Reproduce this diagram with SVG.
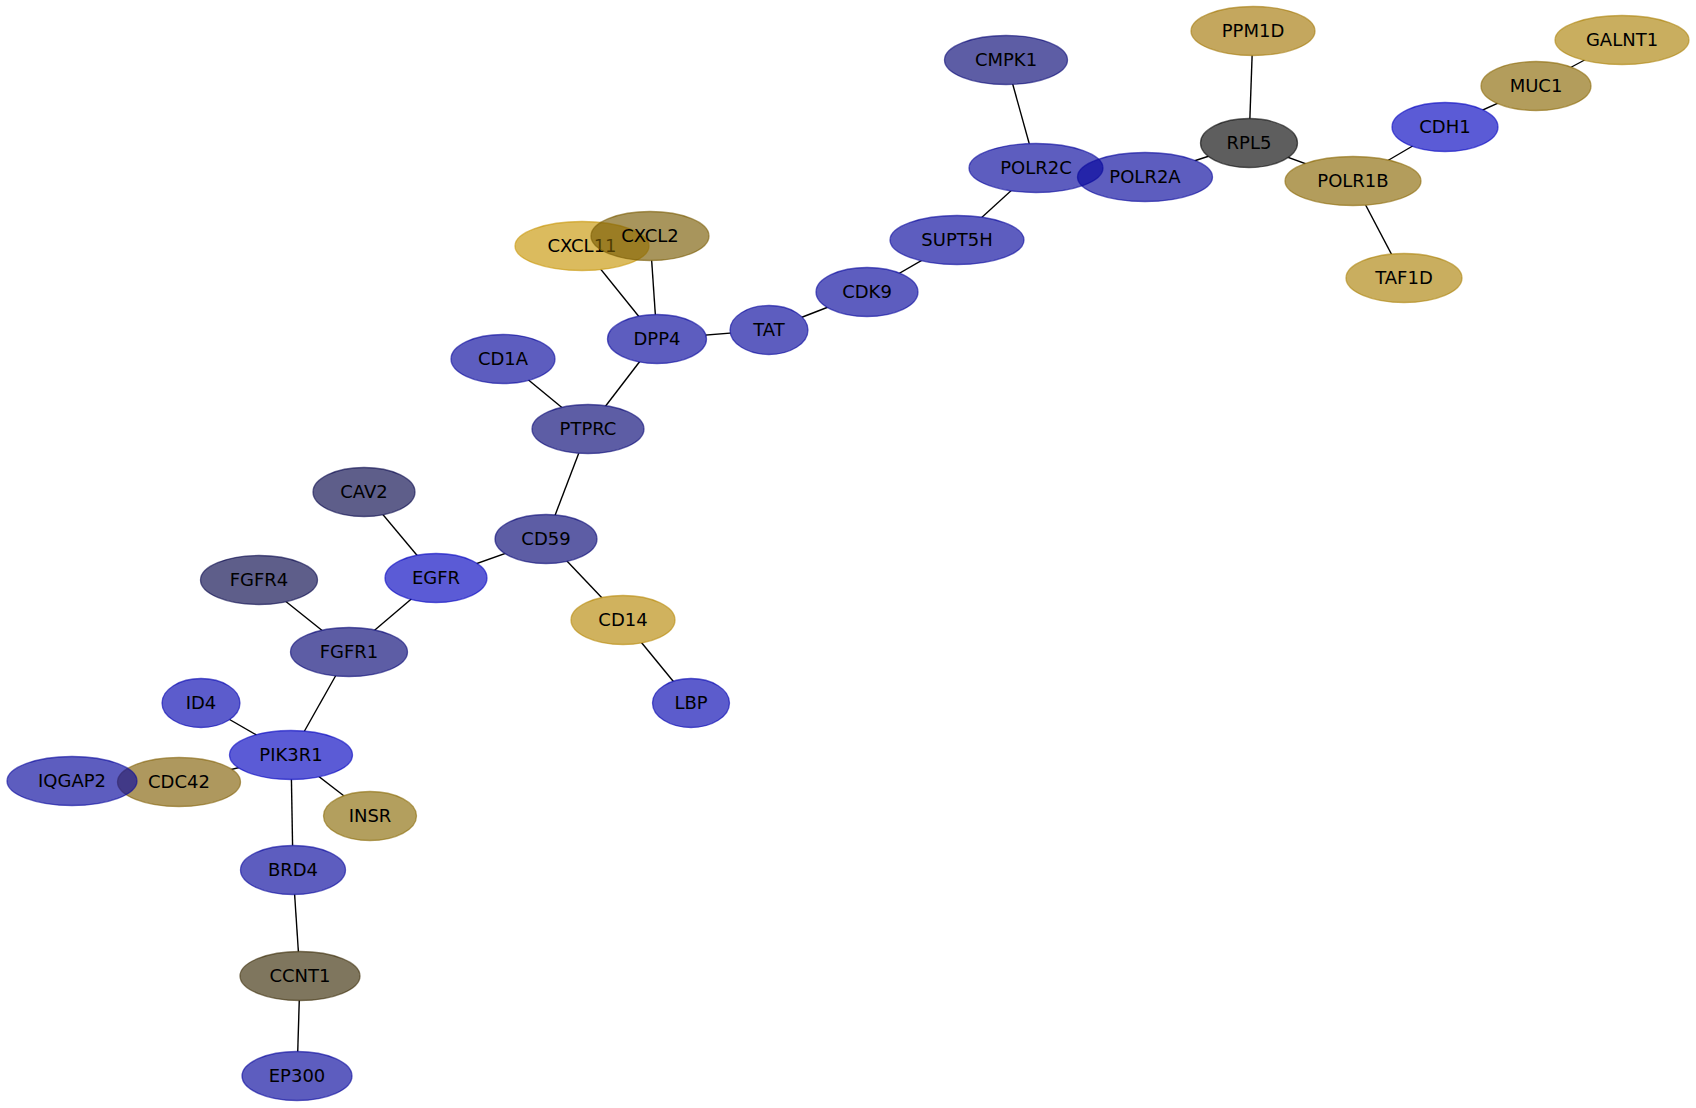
<svg xmlns="http://www.w3.org/2000/svg" width="1696" height="1108" viewBox="0 0 1696 1108">
<style>
.n ellipse { stroke-width: 1.3; fill-opacity: 0.65; stroke-opacity: 0.6; }
.n text { font-family: "DejaVu Sans", "Liberation Sans", sans-serif; font-size: 18px; text-anchor: middle; fill: #000; }
.e line { stroke: #000; stroke-width: 1.4; }
.bv { fill: #0303c0; stroke: #0303c0; }
.bl { fill: #0404b0; stroke: #0404b0; }
.bm { fill: #06069c; stroke: #06069c; }
.bg { fill: #060675; stroke: #060675; }
.bs { fill: #07074b; stroke: #07074b; }
.g1 { fill: #a47807; stroke: #a47807; }
.g2 { fill: #ac8209; stroke: #ac8209; }
.g3 { fill: #8a6804; stroke: #8a6804; }
.g4 { fill: #c89607; stroke: #c89607; }
.g5 { fill: #795c04; stroke: #795c04; }
.g6 { fill: #b78807; stroke: #b78807; }
.g7 { fill: #8a6b07; stroke: #8a6b07; }
.g8 { fill: #826107; stroke: #826107; }
.g9 { fill: #3a2c07; stroke: #3a2c07; }
.k { fill: #070707; stroke: #070707; }
</style>
<defs>
<mask id="holes" maskUnits="userSpaceOnUse" x="0" y="0" width="1696" height="1108">
<rect x="0" y="0" width="1696" height="1108" fill="#fff"/>
<g fill="#000">
<ellipse cx="1006" cy="60" rx="61.5" ry="24.5"/>
<ellipse cx="1036" cy="168" rx="67" ry="24.5"/>
<ellipse cx="1145" cy="177" rx="67.5" ry="24.5"/>
<ellipse cx="1249" cy="143" rx="48.5" ry="24.5"/>
<ellipse cx="1253" cy="31" rx="62" ry="24.5"/>
<ellipse cx="1622" cy="40" rx="67" ry="24.5"/>
<ellipse cx="1536" cy="86" rx="55" ry="24.5"/>
<ellipse cx="1445" cy="127" rx="53" ry="24.5"/>
<ellipse cx="1353" cy="181" rx="68" ry="24.5"/>
<ellipse cx="1404" cy="278" rx="58" ry="24.5"/>
<ellipse cx="957" cy="240" rx="67" ry="24.5"/>
<ellipse cx="867" cy="292" rx="51" ry="24.5"/>
<ellipse cx="769" cy="330" rx="39" ry="24.5"/>
<ellipse cx="657" cy="339" rx="49.5" ry="24.5"/>
<ellipse cx="582" cy="246" rx="67" ry="24.5"/>
<ellipse cx="650" cy="236" rx="59" ry="24.5"/>
<ellipse cx="503" cy="359" rx="52" ry="24.5"/>
<ellipse cx="588" cy="429" rx="56" ry="24.5"/>
<ellipse cx="546" cy="539" rx="51" ry="24.5"/>
<ellipse cx="364" cy="492" rx="51" ry="24.5"/>
<ellipse cx="436" cy="578" rx="51" ry="24.5"/>
<ellipse cx="259" cy="580" rx="58.5" ry="24.5"/>
<ellipse cx="349" cy="652" rx="58.5" ry="24.5"/>
<ellipse cx="623" cy="620" rx="52" ry="24.5"/>
<ellipse cx="691" cy="703" rx="38.5" ry="24.5"/>
<ellipse cx="201" cy="703" rx="39" ry="24.5"/>
<ellipse cx="291" cy="755" rx="61.5" ry="24.5"/>
<ellipse cx="72" cy="781" rx="65" ry="24.5"/>
<ellipse cx="179" cy="782" rx="61.5" ry="24.5"/>
<ellipse cx="370" cy="816" rx="46.5" ry="24.5"/>
<ellipse cx="293" cy="870" rx="52.5" ry="24.5"/>
<ellipse cx="300" cy="976" rx="60" ry="24.5"/>
<ellipse cx="297" cy="1076" rx="55" ry="24.5"/>
</g>
</mask>
</defs>
<rect x="0" y="0" width="1696" height="1108" fill="#fff"/>
<g id="edges" class="e" mask="url(#holes)">
<line x1="1006" y1="60" x2="1036" y2="168"/>
<line x1="1036" y1="168" x2="957" y2="240"/>
<line x1="957" y1="240" x2="867" y2="292"/>
<line x1="867" y1="292" x2="769" y2="330"/>
<line x1="769" y1="330" x2="657" y2="339"/>
<line x1="657" y1="339" x2="582" y2="246"/>
<line x1="657" y1="339" x2="650" y2="236"/>
<line x1="657" y1="339" x2="588" y2="429"/>
<line x1="588" y1="429" x2="503" y2="359"/>
<line x1="588" y1="429" x2="546" y2="539"/>
<line x1="546" y1="539" x2="436" y2="578"/>
<line x1="546" y1="539" x2="623" y2="620"/>
<line x1="623" y1="620" x2="691" y2="703"/>
<line x1="436" y1="578" x2="364" y2="492"/>
<line x1="436" y1="578" x2="349" y2="652"/>
<line x1="349" y1="652" x2="259" y2="580"/>
<line x1="349" y1="652" x2="291" y2="755"/>
<line x1="291" y1="755" x2="201" y2="703"/>
<line x1="291" y1="755" x2="179" y2="782"/>
<line x1="291" y1="755" x2="370" y2="816"/>
<line x1="291" y1="755" x2="293" y2="870"/>
<line x1="293" y1="870" x2="300" y2="976"/>
<line x1="300" y1="976" x2="297" y2="1076"/>
<line x1="1145" y1="177" x2="1249" y2="143"/>
<line x1="1249" y1="143" x2="1253" y2="31"/>
<line x1="1249" y1="143" x2="1353" y2="181"/>
<line x1="1353" y1="181" x2="1445" y2="127"/>
<line x1="1353" y1="181" x2="1404" y2="278"/>
<line x1="1445" y1="127" x2="1536" y2="86"/>
<line x1="1536" y1="86" x2="1622" y2="40"/>
</g>
<g id="n-CMPK1" class="n"><ellipse class="bg" cx="1006" cy="60" rx="61.5" ry="24.5"/><text x="1006" y="66">CMPK1</text></g>
<g id="n-POLR2C" class="n"><ellipse class="bm" cx="1036" cy="168" rx="67" ry="24.5"/><text x="1036" y="174">POLR2C</text></g>
<g id="n-POLR2A" class="n"><ellipse class="bm" cx="1145" cy="177" rx="67.5" ry="24.5"/><text x="1145" y="183">POLR2A</text></g>
<g id="n-RPL5" class="n"><ellipse class="k" cx="1249" cy="143" rx="48.5" ry="24.5"/><text x="1249" y="149">RPL5</text></g>
<g id="n-PPM1D" class="n"><ellipse class="g1" cx="1253" cy="31" rx="62" ry="24.5"/><text x="1253" y="37">PPM1D</text></g>
<g id="n-GALNT1" class="n"><ellipse class="g2" cx="1622" cy="40" rx="67" ry="24.5"/><text x="1622" y="46">GALNT1</text></g>
<g id="n-MUC1" class="n"><ellipse class="g3" cx="1536" cy="86" rx="55" ry="24.5"/><text x="1536" y="92">MUC1</text></g>
<g id="n-CDH1" class="n"><ellipse class="bv" cx="1445" cy="127" rx="53" ry="24.5"/><text x="1445" y="133">CDH1</text></g>
<g id="n-POLR1B" class="n"><ellipse class="g3" cx="1353" cy="181" rx="68" ry="24.5"/><text x="1353" y="187">POLR1B</text></g>
<g id="n-TAF1D" class="n"><ellipse class="g2" cx="1404" cy="278" rx="58" ry="24.5"/><text x="1404" y="284">TAF1D</text></g>
<g id="n-SUPT5H" class="n"><ellipse class="bm" cx="957" cy="240" rx="67" ry="24.5"/><text x="957" y="246">SUPT5H</text></g>
<g id="n-CDK9" class="n"><ellipse class="bm" cx="867" cy="292" rx="51" ry="24.5"/><text x="867" y="298">CDK9</text></g>
<g id="n-TAT" class="n"><ellipse class="bm" cx="769" cy="330" rx="39" ry="24.5"/><text x="769" y="336">TAT</text></g>
<g id="n-DPP4" class="n"><ellipse class="bm" cx="657" cy="339" rx="49.5" ry="24.5"/><text x="657" y="345">DPP4</text></g>
<g id="n-CXCL11" class="n"><ellipse class="g4" cx="582" cy="246" rx="67" ry="24.5"/><text x="582" y="252">CXCL11</text></g>
<g id="n-CXCL2" class="n"><ellipse class="g5" cx="650" cy="236" rx="59" ry="24.5"/><text x="650" y="242">CXCL2</text></g>
<g id="n-CD1A" class="n"><ellipse class="bm" cx="503" cy="359" rx="52" ry="24.5"/><text x="503" y="365">CD1A</text></g>
<g id="n-PTPRC" class="n"><ellipse class="bg" cx="588" cy="429" rx="56" ry="24.5"/><text x="588" y="435">PTPRC</text></g>
<g id="n-CD59" class="n"><ellipse class="bg" cx="546" cy="539" rx="51" ry="24.5"/><text x="546" y="545">CD59</text></g>
<g id="n-CAV2" class="n"><ellipse class="bs" cx="364" cy="492" rx="51" ry="24.5"/><text x="364" y="498">CAV2</text></g>
<g id="n-EGFR" class="n"><ellipse class="bv" cx="436" cy="578" rx="51" ry="24.5"/><text x="436" y="584">EGFR</text></g>
<g id="n-FGFR4" class="n"><ellipse class="bs" cx="259" cy="580" rx="58.5" ry="24.5"/><text x="259" y="586">FGFR4</text></g>
<g id="n-FGFR1" class="n"><ellipse class="bg" cx="349" cy="652" rx="58.5" ry="24.5"/><text x="349" y="658">FGFR1</text></g>
<g id="n-CD14" class="n"><ellipse class="g6" cx="623" cy="620" rx="52" ry="24.5"/><text x="623" y="626">CD14</text></g>
<g id="n-LBP" class="n"><ellipse class="bl" cx="691" cy="703" rx="38.5" ry="24.5"/><text x="691" y="709">LBP</text></g>
<g id="n-ID4" class="n"><ellipse class="bl" cx="201" cy="703" rx="39" ry="24.5"/><text x="201" y="709">ID4</text></g>
<g id="n-PIK3R1" class="n"><ellipse class="bv" cx="291" cy="755" rx="61.5" ry="24.5"/><text x="291" y="761">PIK3R1</text></g>
<g id="n-CDC42" class="n"><ellipse class="g8" cx="179" cy="782" rx="61.5" ry="24.5"/><text x="179" y="788">CDC42</text></g>
<g id="n-IQGAP2" class="n"><ellipse class="bm" cx="72" cy="781" rx="65" ry="24.5"/><text x="72" y="787">IQGAP2</text></g>
<g id="n-INSR" class="n"><ellipse class="g7" cx="370" cy="816" rx="46.5" ry="24.5"/><text x="370" y="822">INSR</text></g>
<g id="n-BRD4" class="n"><ellipse class="bm" cx="293" cy="870" rx="52.5" ry="24.5"/><text x="293" y="876">BRD4</text></g>
<g id="n-CCNT1" class="n"><ellipse class="g9" cx="300" cy="976" rx="60" ry="24.5"/><text x="300" y="982">CCNT1</text></g>
<g id="n-EP300" class="n"><ellipse class="bm" cx="297" cy="1076" rx="55" ry="24.5"/><text x="297" y="1082">EP300</text></g>
</svg>
